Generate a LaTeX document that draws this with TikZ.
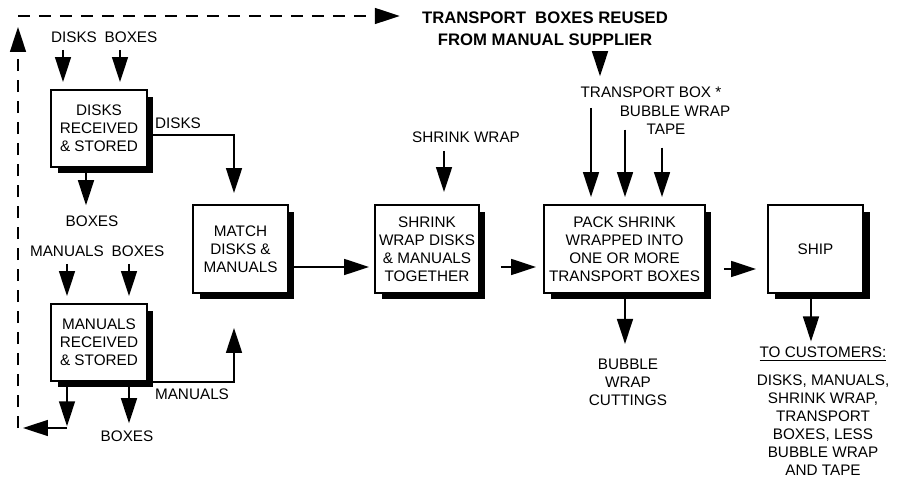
\documentclass[tikz,border=0pt]{standalone}
\usepackage{fontspec}
\setmainfont{Liberation Sans}
\usepackage{tikz}
\usetikzlibrary{arrows.meta,shadows}

\begin{document}
\begin{tikzpicture}[x=0.02cm,y=-0.02cm,
  font=\fontsize{8.7}{10.2}\selectfont,
  proc/.style={draw,line width=1.1pt,fill=white,inner sep=0pt,align=center,
    minimum width=1.9cm,minimum height=1.76cm,
    drop shadow={shadow xshift=0.13cm,shadow yshift=-0.13cm,fill=black,opacity=1}},
  lbl/.style={inner sep=0pt,align=center},
  arr/.style={line width=0.9pt,-{Triangle[length=0.5cm,width=0.32cm]}},
  feed/.style={arr,shorten <=4pt,shorten >=4pt},
  ret/.style={arr,dash pattern=on 0.24cm off 0.18cm}]
  \useasboundingbox (0,0) rectangle (898,479);

  \node[proc,minimum width=1.92cm,minimum height=1.54cm] (dr) at (99,128.5) {DISKS\\RECEIVED\\\& STORED};
  \node[proc,minimum width=1.92cm,minimum height=1.54cm] (mr) at (99,342.5) {MANUALS\\RECEIVED\\\& STORED};
  \node[proc] (mt) at (240.5,249) {MATCH\\DISKS \&\\MANUALS};
  \node[proc,minimum width=2.08cm] (sw) at (427,249) {SHRINK\\WRAP DISKS\\\& MANUALS\\TOGETHER};
  \node[proc,minimum width=3.22cm] (pk) at (624.5,249) {PACK SHRINK\\WRAPPED INTO\\ONE OR MORE\\TRANSPORT BOXES};
  \node[proc] (sh) at (815.5,249) {SHIP};

  \node[lbl] (dk) at (74,37) {DISKS};
  \node[lbl] (db) at (131,37) {BOXES};
  \node[lbl] (do) at (178,123) {DISKS};
  \node[lbl] (bo) at (92,221) {BOXES};
  \node[lbl] (mk) at (67,251) {MANUALS};
  \node[lbl] (mb) at (138,251) {BOXES};
  \node[lbl] (mo) at (192,394) {MANUALS};
  \node[lbl] (bb) at (127,436) {BOXES};
  \node[lbl] (ws) at (466,137) {SHRINK WRAP};
  \node[lbl,font=\bfseries\fontsize{9.5}{12.5}\selectfont] (ttl) at (545,29)
    {TRANSPORT\ \ BOXES REUSED\\FROM MANUAL SUPPLIER};
  \node[lbl] (tb) at (651,92) {TRANSPORT BOX *};
  \node[lbl] (bw) at (675,111) {BUBBLE WRAP};
  \node[lbl] (tp) at (666,129) {TAPE};
  \node[lbl] (cut) at (628,382.5) {BUBBLE\\WRAP\\CUTTINGS};
  \node[lbl] (cu) at (823,354) {\underline{TO CUSTOMERS:}};
  \node[lbl] (cl) at (823,425) {DISKS, MANUALS,\\SHRINK WRAP,\\TRANSPORT\\BOXES, LESS\\BUBBLE WRAP\\AND TAPE};

  \coordinate (rc) at (67,428);
  \coordinate (lb) at (18,428);
  \coordinate (lt) at (18,16);

  \draw[feed] (dk.south -| 63,0) -- (dr.north -| 63,0);
  \draw[feed] (db.south -| 120,0) -- (dr.north -| 120,0);
  \draw[arr,shorten >=0.22cm] (dr.east |- 0,135) -| (mt.north -| 234,0);
  \draw[arr,shorten >=0.2cm] (dr.south -| 86,0) -- (bo.north -| 86,0);
  \draw[feed] (mk.south -| 67,0) -- (mr.north -| 67,0);
  \draw[feed] (mb.south -| 129,0) -- (mr.north -| 129,0);
  \draw[arr,shorten >=0.68cm] (mr.south east) -| (mt.south -| 234,0);
  \draw[arr,shorten >=1pt] (mr.south -| rc) -- (rc);
  \draw[arr,shorten >=0.1cm] (rc) -- (lb);
  \draw[arr,shorten >=0.14cm] (mr.south -| 129,0) -- (bb.north -| 129,0);
  \draw[ret,shorten >=0.22cm] (lb) -- (lt);
  \draw[ret,shorten >=0.44cm] (lt) -- (ttl.west |- lt);

  \draw[arr,shorten >=0.1cm] ([yshift=-0.36cm]mt.east) -- ([yshift=-0.36cm]sw.west);
  \draw[arr,shorten <=0.42cm,shorten >=0.14cm] ([yshift=-0.36cm]sw.east) -- ([yshift=-0.36cm]pk.west);
  \draw[arr,shorten <=0.36cm,shorten >=0.22cm] ([yshift=-0.4cm]pk.east) -- ([yshift=-0.4cm]sh.west);
  \draw[arr,shorten <=0.16cm,shorten >=0.24cm] (ws.south -| 444,0) -- (sw.north -| 444,0);

  \draw[arr,shorten <=0.12cm,shorten >=0.2cm] (ttl.south -| 600,0) -- (tb.north -| 600,0);
  \draw[arr,shorten <=0.2cm,shorten >=0.14cm] (tb.south -| 591,0) -- (pk.north -| 591,0);
  \draw[arr,shorten <=0.26cm,shorten >=0.14cm] (bw.south -| 625,0) -- (pk.north -| 625,0);
  \draw[arr,shorten <=0.26cm,shorten >=0.14cm] (tp.south -| 662,0) -- (pk.north -| 662,0);
  \draw[arr,shorten >=0.3cm] (pk.south -| 625,0) -- (cut.north -| 625,0);
  \draw[arr,shorten >=0.1cm] (sh.south -| 811,0) -- (cu.north -| 811,0);
\end{tikzpicture}
\end{document}
